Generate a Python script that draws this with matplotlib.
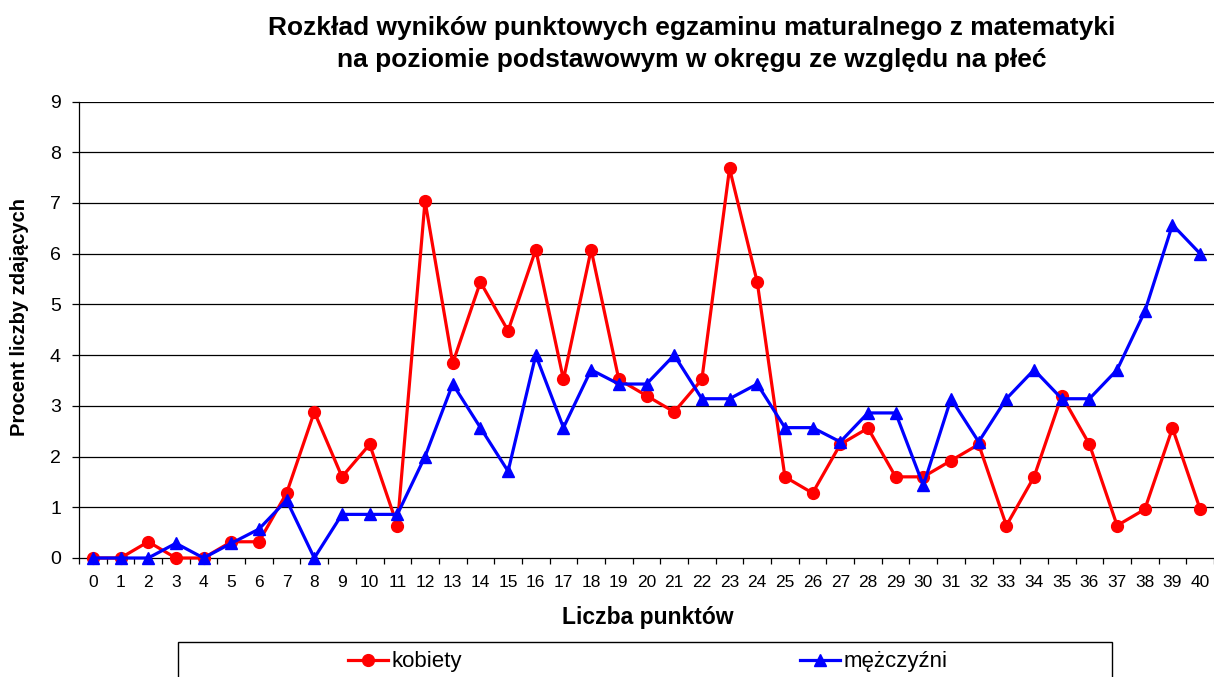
import matplotlib
matplotlib.use("Agg")
import matplotlib.pyplot as plt
import numpy as np
from matplotlib.patches import Rectangle

plt.rcParams['font.family'] = ['Liberation Sans', 'DejaVu Sans']

# data: percent of candidates per score (0..40)
punkty = list(range(41))
kobiety = [0, 0, 0.32, 0, 0, 0.32, 0.32, 1.28, 2.88, 1.60,
           2.24, 0.64, 7.04, 3.84, 5.44, 4.48, 6.08, 3.52, 6.08, 3.52,
           3.20, 2.88, 3.52, 7.68, 5.44, 1.60, 1.28, 2.24, 2.56, 1.60,
           1.60, 1.92, 2.24, 0.64, 1.60, 3.20, 2.24, 0.64, 0.96, 2.56,
           0.96]
mezczyzni = [0, 0, 0, 0.29, 0, 0.29, 0.57, 1.14, 0, 0.86,
             0.86, 0.86, 2.00, 3.43, 2.57, 1.71, 4.00, 2.57, 3.71, 3.43,
             3.43, 4.00, 3.14, 3.14, 3.43, 2.57, 2.57, 2.29, 2.86, 2.86,
             1.43, 3.14, 2.29, 3.14, 3.71, 3.14, 3.14, 3.71, 4.86, 6.57,
             6.00]
y_ticks = list(range(10))

W, H = 1214, 677
fig = plt.figure(figsize=(W / 100, H / 100), dpi=100)
ax = fig.add_axes([79 / W, 1 - 558 / H, (1214 - 79) / W, (558 - 101.5) / H])

for y in y_ticks[1:]:
    ax.axhline(y, color='black', lw=0.9, zorder=1)

l1, = ax.plot(punkty, kobiety, color='#ff0000', lw=2.3, marker='o', ms=8.5,
              clip_on=False, zorder=3)
l2, = ax.plot(punkty, mezczyzni, color='#0000ff', lw=2.3, marker='^', ms=9,
              clip_on=False, zorder=4)

ax.set_xlim(-0.5, 40.5)
ax.set_ylim(0, 9)
ax.set_xticks(punkty)
ax.set_xticklabels([str(p) for p in punkty], fontsize=12.5)
ax.set_xticks(np.arange(-0.5, 41, 1), minor=True)
ax.tick_params(axis='x', which='major', length=0, pad=12)
ax.tick_params(axis='x', which='minor', length=4, width=0.9, direction='out')
ax.set_yticks(y_ticks)
ax.set_yticklabels([str(t) for t in y_ticks], fontsize=14)
ax.tick_params(axis='y', length=5, width=0.9, direction='out', pad=8)

for s in ['top', 'right']:
    ax.spines[s].set_visible(False)
ax.spines['left'].set_linewidth(0.9)
ax.spines['bottom'].set_linewidth(0.9)

ax.set_ylabel('Procent liczby zdających', fontsize=14.5, fontweight='bold')
ax.yaxis.set_label_coords(-0.044, 0.528)
ax.set_xlabel('Liczba punktów', fontsize=16.5, fontweight='bold')
ax.xaxis.set_label_coords(0.501, -0.106)

fig.text(692 / W, 1 - 44 / H,
         'Rozkład wyników punktowych egzaminu maturalnego z matematyki\n'
         'na poziomie podstawowym w okręgu ze względu na płeć',
         ha='center', va='center', fontsize=19, fontweight='bold', linespacing=1.38)

# legend box (cut off by the bottom edge like in the original)
fig.patches.append(Rectangle((178 / W, -0.02), (1112 - 178) / W, 0.02 + 1 - 642 / H,
                             transform=fig.transFigure, fill=False,
                             edgecolor='black', lw=1))
fig.legend(handles=[l1], labels=['kobiety'], loc='center',
           bbox_to_anchor=(405 / W, 1 - 662 / H), frameon=False,
           fontsize=16, handlelength=1.8, handletextpad=0.15)
fig.legend(handles=[l2], labels=['mężczyźni'], loc='center',
           bbox_to_anchor=(874 / W, 1 - 662 / H), frameon=False,
           fontsize=16, handlelength=1.8, handletextpad=0.15)

fig.savefig('out.png', dpi=100)
